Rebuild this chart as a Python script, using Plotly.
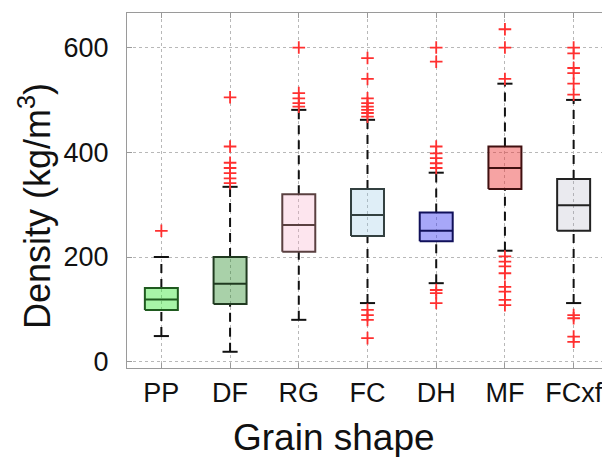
import plotly.graph_objects as go

categories = ["PP", "DF", "RG", "FC", "DH", "MF", "FCxf"]
q1 = [99, 110, 210, 240, 230, 330, 250]
medians = [119, 149, 261, 280, 250, 370, 299]
q3 = [141, 200, 320, 330, 285, 411, 349]
whisker_low = [49, 19, 80, 112, 150, 212, 112]
whisker_high = [200, 334, 481, 462, 361, 531, 500]
outliers = [
    [250],
    [505, 411, 380, 370, 360, 350, 341],
    [600, 513, 503, 494, 487],
    [580, 540, 503, 494, 487, 481, 475, 468, 99, 89, 80, 45],
    [600, 573, 411, 398, 389, 379, 370, 137, 131, 112],
    [635, 600, 540, 201, 191, 182, 169, 143, 134, 118, 108],
    [600, 589, 561, 551, 531, 510, 89, 83, 48, 38],
]
y_ticks = [0, 200, 400, 600]

fill_colors = [
    "rgba(60,230,60,0.45)",
    "rgba(40,140,40,0.40)",
    "rgba(250,170,200,0.30)",
    "rgba(150,200,230,0.30)",
    "rgba(60,60,240,0.45)",
    "rgba(235,50,50,0.45)",
    "rgba(160,160,180,0.22)",
]
edge_colors = ["#1f5a1f", "#203a20", "#5a4040", "#334040", "#10105a", "#401010", "#222222"]

BOX_HALF = 0.24
CAP_HALF = 0.11

fig = go.Figure()

for i, cat in enumerate(categories):
    fig.add_trace(go.Scatter(
        x=[i, i, None, i, i], y=[q3[i], whisker_high[i], None, whisker_low[i], q1[i]],
        mode="lines", line=dict(color="#111111", width=2, dash="9px,6px"),
        hoverinfo="skip", showlegend=False))
    fig.add_trace(go.Scatter(
        x=[i - CAP_HALF, i + CAP_HALF, None, i - CAP_HALF, i + CAP_HALF],
        y=[whisker_high[i], whisker_high[i], None, whisker_low[i], whisker_low[i]],
        mode="lines", line=dict(color="#111111", width=2),
        hoverinfo="skip", showlegend=False))
    fig.add_trace(go.Scatter(
        x=[i - BOX_HALF, i + BOX_HALF, i + BOX_HALF, i - BOX_HALF, i - BOX_HALF],
        y=[q1[i], q1[i], q3[i], q3[i], q1[i]],
        mode="lines", fill="toself", fillcolor=fill_colors[i],
        line=dict(color=edge_colors[i], width=2),
        hoverinfo="skip", showlegend=False))
    fig.add_trace(go.Scatter(
        x=[i - BOX_HALF, i + BOX_HALF], y=[medians[i], medians[i]],
        mode="lines", line=dict(color=edge_colors[i], width=2),
        hoverinfo="skip", showlegend=False))
    fig.add_trace(go.Scatter(
        x=[i] * len(outliers[i]), y=outliers[i], mode="markers",
        marker=dict(symbol="cross-thin", size=9, line=dict(color="#ff3030", width=1.8)),
        hoverinfo="skip", showlegend=False))

# page body has an 8px default margin, so the figure is 8px smaller than the window
fig.update_layout(
    width=602, height=449,
    margin=dict(l=119, r=2, t=5, b=89, autoexpand=False),
    paper_bgcolor="white", plot_bgcolor="white",
    font=dict(family="Liberation Sans, Arial, sans-serif", color="#111111"),
    showlegend=False,
    annotations=[
        dict(text="Density (kg/m<sup>3</sup>)", textangle=-90,
             xref="paper", yref="paper", x=-0.19, y=0.455,
             xanchor="center", yanchor="middle", showarrow=False,
             font=dict(size=36, color="#111111")),
        dict(text="Grain shape",
             xref="paper", yref="paper", x=0.43, y=-0.197,
             xanchor="center", yanchor="middle", showarrow=False,
             font=dict(size=37, color="#111111")),
    ],
)
fig.update_xaxes(
    range=[-0.5, 6.5], tickmode="array", tickvals=list(range(len(categories))),
    ticktext=categories, tickfont=dict(size=27), automargin=False,
    ticklabeloverflow="allow",
    showgrid=True, gridcolor="#b8b8b8", griddash="dot", gridwidth=1,
    showline=True, linecolor="#9a9a9a", linewidth=1, mirror="ticks",
    ticks="inside", ticklen=5, tickcolor="#9a9a9a", zeroline=False,
    ticklabelstandoff=1,
)
fig.update_yaxes(
    range=[-12, 666], tickmode="array", tickvals=y_ticks,
    tickfont=dict(size=27), automargin=False,
    showgrid=True, gridcolor="#b8b8b8", griddash="dot", gridwidth=1,
    showline=True, linecolor="#9a9a9a", linewidth=1, mirror="ticks",
    ticks="inside", ticklen=5, tickcolor="#9a9a9a", zeroline=False,
    ticklabelstandoff=12,
)

fig.write_html("out.html")
